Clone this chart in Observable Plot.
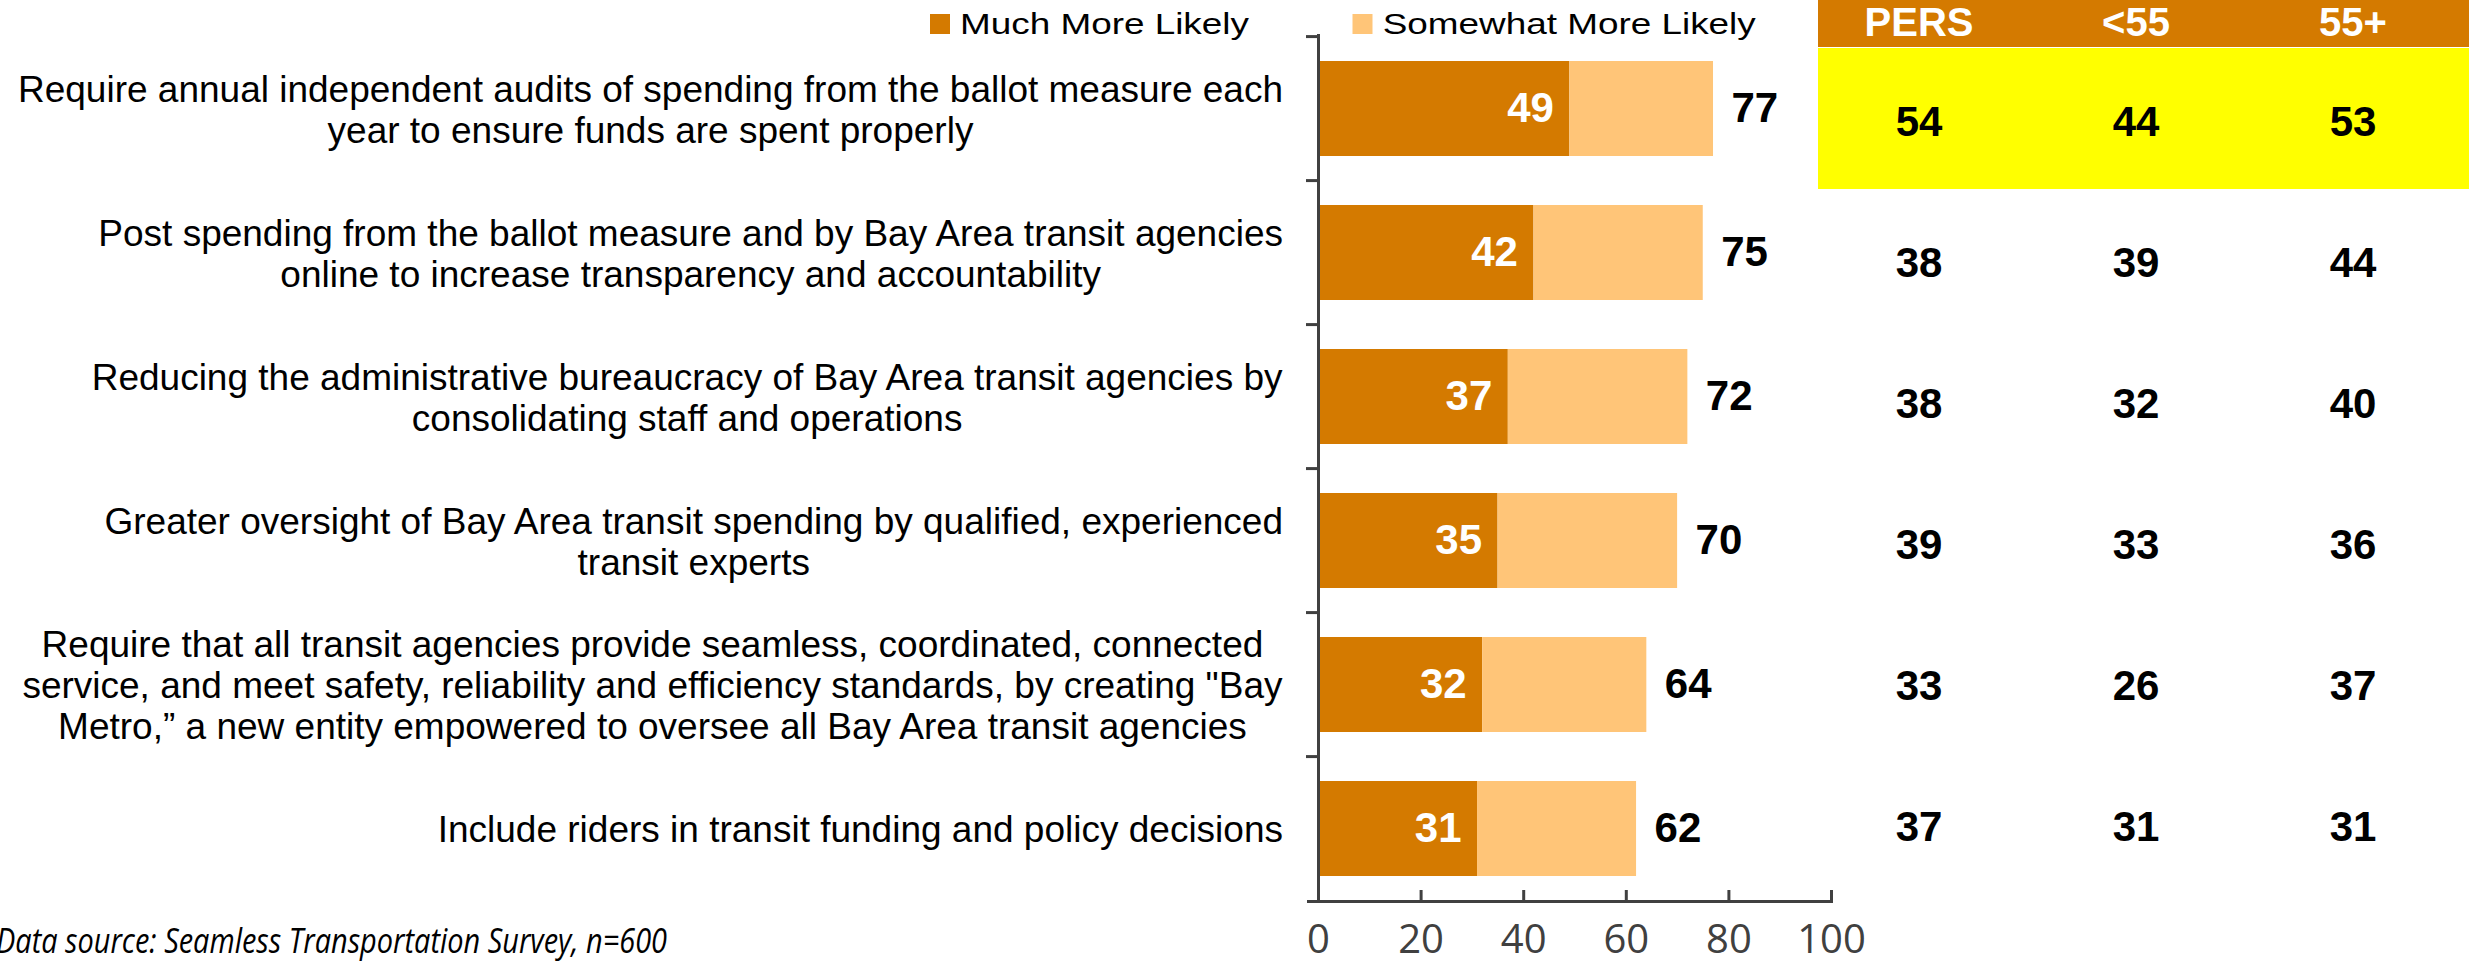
<!DOCTYPE html>
<html>
<head>
<meta charset="utf-8">
<script src="https://cdn.jsdelivr.net/npm/d3@7"></script>
<script src="https://cdn.jsdelivr.net/npm/@observablehq/plot@0.6"></script>
<style>
  body { margin: 0; background: #fff; }
  #wrap { position: relative; width: 2478px; height: 970px; overflow: hidden; background: #fff; }
  #wrap > * { position: absolute; left: 0; top: 0; overflow: visible; }
  #legend { left: 930px; top: 7px; transform: scaleX(1.25); transform-origin: 0 0; }
  .lg-swatches { font-family: "Liberation Sans", Arial, sans-serif !important; font-size: 29.5px !important; color: #000 !important; margin: 0 !important; }
  .lg-swatch { margin-right: 83px !important; }
  .lg-swatch > svg { margin-right: 8px !important; }
</style>
</head>
<body>
<div id="wrap"></div>
<script>
// ---------- data ----------
const categories = [
  "Require annual independent audits of spending from the ballot measure each\nyear to ensure funds are spent properly",
  "Post spending from the ballot measure and by Bay Area transit agencies\nonline to increase transparency and accountability",
  "Reducing the administrative bureaucracy of Bay Area transit agencies by\nconsolidating staff and operations",
  "Greater oversight of Bay Area transit spending by qualified, experienced\ntransit experts",
  "Require that all transit agencies provide seamless, coordinated, connected\nservice, and meet safety, reliability and efficiency standards, by creating \"Bay\nMetro,\u201D a new entity empowered to oversee all Bay Area transit agencies",
  "Include riders in transit funding and policy decisions"
];
const seriesNames = ["Much More Likely", "Somewhat More Likely"];
const muchMore = [49, 42, 37, 35, 32, 31];
const somewhatMore = [28, 33, 35, 35, 32, 31];
const totals = [77, 75, 72, 70, 64, 62];
const columns = ["PERS", "<55", "55+"];
const pers = [54, 38, 38, 39, 33, 37];
const under55 = [44, 39, 32, 33, 26, 31];
const over55 = [53, 44, 40, 36, 37, 31];
const xTicks = [0, 20, 40, 60, 80, 100];
const caption = "Data source: Seamless Transportation Survey, n=600";

// ---------- styles ----------
const DARK = "#D47A00", LIGHT = "#FFC578", YELLOW = "#FFFF00", AXIS = "#404040";
const FONT = "Liberation Sans, Arial, sans-serif";
const W = 2478, H = 970;

// ---------- derived tables ----------
const stacked = [];
categories.forEach((c, i) => {
  stacked.push({cat: c, series: seriesNames[0], value: muchMore[i]});
  stacked.push({cat: c, series: seriesNames[1], value: somewhatMore[i]});
});
const rows = categories.map((c, i) => ({cat: c, much: muchMore[i], total: totals[i]}));
const colValues = [pers, under55, over55];
const tableCells = [];
categories.forEach((c, i) => columns.forEach((col, j) => tableCells.push({cat: c, col, value: colValues[j][i], first: i === 0})));

const wrap = document.getElementById("wrap");

// ---------- main bar chart ----------
const mt = 34, mb = 67, ml = 1318, mr = 647;
const frameH = H - mt - mb;
const step = frameH / categories.length;
const labelGap = 35;

const main = Plot.plot({
  width: W, height: H,
  marginTop: mt, marginBottom: mb, marginLeft: ml, marginRight: mr,
  style: {background: "transparent", fontFamily: FONT},
  x: {domain: [0, 100], axis: null},
  y: {domain: categories, paddingInner: 0.34, paddingOuter: 0.17, axis: null},
  color: {domain: seriesNames, range: [DARK, LIGHT]},
  marks: [
    Plot.barX(stacked, {x: "value", y: "cat", fill: "series"}),
    Plot.text(rows, {x: "much", y: "cat", text: d => String(d.much), textAnchor: "end", dx: -16,
      fill: "white", fontWeight: "bold", fontSize: 42, fontFamily: FONT}),
    Plot.text(rows, {x: "total", y: "cat", text: d => String(d.total), textAnchor: "start", dx: 18,
      fill: "black", fontWeight: "bold", fontSize: 42, fontFamily: FONT}),
    // y axis line and boundary ticks
    Plot.ruleX([0], {stroke: AXIS, strokeWidth: 3}),
    Plot.ruleY(categories, {y: d => d, dy: -step / 2, x1: 0, x2: 0, insetLeft: -12, stroke: AXIS, strokeWidth: 3}),
    // x axis line + upward ticks
    Plot.ruleY([categories[categories.length - 1]], {y: d => d, dy: step / 2, x1: 0, x2: 100, insetLeft: -11, stroke: AXIS, strokeWidth: 3}),
    Plot.ruleX(xTicks, {x: d => d, insetTop: frameH - 13, stroke: AXIS, strokeWidth: 3}),
    Plot.text(xTicks, {x: d => d, frameAnchor: "bottom", dy: 49, text: d => String(d),
      fill: AXIS, fontSize: 40, fontFamily: "Open Sans"}),
    // category labels
    Plot.text(categories, {y: d => d, frameAnchor: "left", text: d => d, textAnchor: "middle",
      lineHeight: 1.11, fontSize: 37, fontFamily: FONT, fill: "black"})
  ]
});
wrap.appendChild(main);

// right-align the centred label blocks against the axis
{
  const svgRect = main.getBoundingClientRect();
  const target = main.scale("x").apply(0) - labelGap;
  const flat = new Set(categories.map(c => c.replace(/\n/g, "")));
  main.querySelectorAll("text").forEach(t => {
    if (!flat.has(t.textContent)) return;
    const r = t.getBoundingClientRect();
    const shift = target - (r.right - svgRect.left);
    t.setAttribute("transform", (t.getAttribute("transform") || "") + ` translate(${shift},0)`);
  });
}

// ---------- table (header + body) ----------
const tl = 1817, tr = 8, headH = 47;
const header = Plot.plot({
  width: W, height: headH,
  marginTop: 0, marginBottom: 0, marginLeft: tl, marginRight: tr,
  style: {background: "transparent", fontFamily: FONT, overflow: "visible"},
  x: {domain: columns, padding: 0, axis: null},
  marks: [
    Plot.cell(columns, {x: d => d, fill: DARK, shapeRendering: "crispEdges"}),
    Plot.text(columns, {x: d => d, text: d => d, dx: -8, dy: -1, fill: "white", fontWeight: "bold", fontSize: 40, fontFamily: FONT})
  ]
});
wrap.appendChild(header);

const tableBottom = 76;
const body = Plot.plot({
  width: W, height: H,
  marginTop: headH, marginBottom: tableBottom, marginLeft: tl, marginRight: tr,
  style: {background: "transparent", fontFamily: FONT},
  x: {domain: columns, padding: 0, axis: null},
  y: {domain: categories, padding: 0, axis: null},
  marks: [
    Plot.cell(tableCells.filter(d => d.first), {x: "col", y: "cat", fill: YELLOW, shapeRendering: "crispEdges"}),
    Plot.text(tableCells, {x: "col", y: "cat", text: d => String(d.value), dx: -8, dy: 4,
      fill: "black", fontWeight: "bold", fontSize: 42, fontFamily: FONT})
  ]
});
wrap.appendChild(body);

// ---------- legend ----------
const legend = Plot.legend({
  color: {domain: seriesNames, range: [DARK, LIGHT]},
  legend: "swatches", swatchWidth: 16, swatchHeight: 20, className: "lg"
});
const legendHolder = document.createElement("div");
legendHolder.id = "legend";
legendHolder.appendChild(legend);
wrap.appendChild(legendHolder);

// ---------- caption ----------
const cap = d3.create("svg").attr("width", 720).attr("height", 70)
  .style("left", "-4px").style("top", "900px").style("position", "absolute");
cap.append("text").attr("x", 0).attr("y", 53)
  .attr("font-family", "Open Sans").attr("font-style", "italic").attr("font-size", 35)
  .attr("textLength", 671).attr("lengthAdjust", "spacingAndGlyphs")
  .attr("fill", "black").text(caption);
wrap.appendChild(cap.node());
</script>
</body>
</html>
